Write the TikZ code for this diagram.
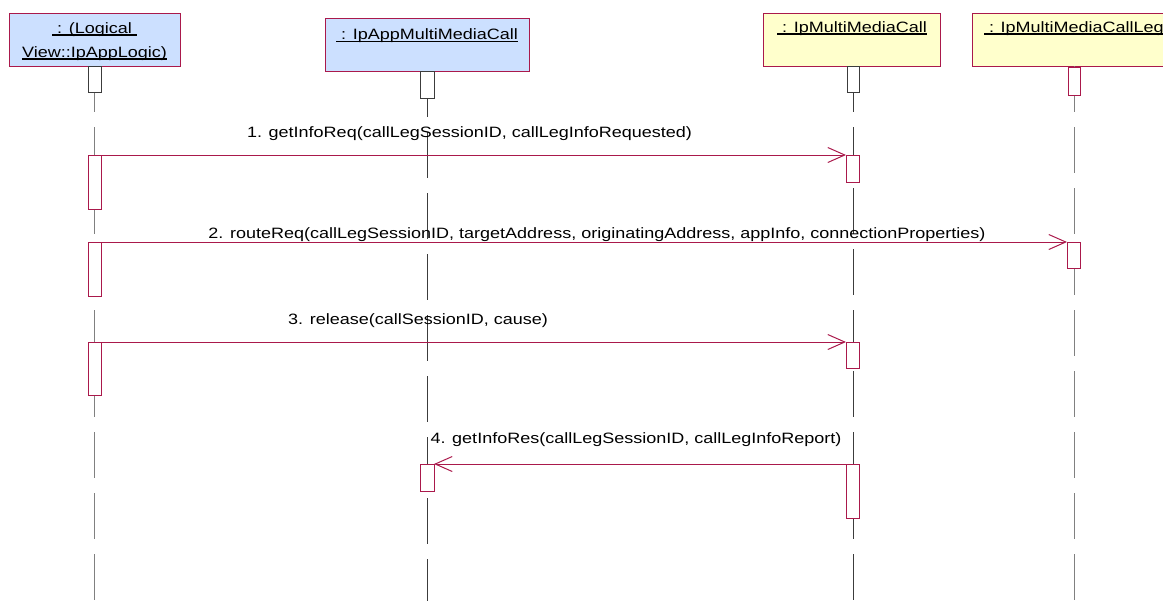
\documentclass[tikz,border=0pt]{standalone}
\usepackage{fontspec}
\newfontfamily\umlfont[FakeStretch=1.2]{Liberation Sans}
\usetikzlibrary{arrows.meta}
\newdimen\px \px=0.75pt
\newcommand\ulx[1]{\setbox0=\hbox{#1}\dimen0=\wd0\relax\rlap{\copy0}\rule[-1.9pt]{\dimen0}{0.85pt}}
\definecolor{umlred}{RGB}{170,25,75}
\definecolor{umlblue}{RGB}{204,224,255}
\definecolor{umlyellow}{RGB}{255,255,204}
\definecolor{lifegray}{RGB}{128,128,128}
\definecolor{lifedark}{RGB}{60,60,60}
\begin{document}
\begin{tikzpicture}[x=0.75pt,y=-0.75pt,
  every node/.style={font=\umlfont\fontsize{11.25}{13}\selectfont, inner sep=0pt, outer sep=0pt},
  objbox/.style={draw=umlred, line width=0.75pt, anchor=north west, minimum height=53\px},
  headbox/.style={draw=lifedark, fill=white, line width=0.75pt, anchor=north west},
  actbox/.style={draw=umlred, fill=white, line width=0.75pt, anchor=north west},
  lifeline/.style={line width=0.75pt, dash pattern=on 34.5pt off 11.25pt},
  msg/.style={draw=umlred, line width=0.75pt, -{Straight Barb[length=12.75pt,width=11.25pt]}},
  lbl/.style={anchor=base}
]
\useasboundingbox (0,0) rectangle (1163,601);
\clip (0,0) rectangle (1163,601);

% object boxes
\node[objbox, fill=umlblue, minimum width=171\px] (o1) at (9,13) {};
\node[objbox, fill=umlblue, minimum width=204\px] (o2) at (325,18) {};
\node[objbox, fill=umlyellow, minimum width=177\px] (o3) at (763,13) {};
\node[objbox, fill=umlyellow, minimum width=220\px] (o4) at (972,13) {};

% object names
\node[lbl] (t1a) at (94.5,33) {\ulx{\ : (Logical\ }};
\node[lbl] (t1b) at (94.5,57) {\ulx{View::IpAppLogic)}};
\node[lbl] (t2) at (427,39.5) {\ulx{\ : IpAppMultiMediaCall}};
\node[lbl] (t3) at (852,32) {\ulx{\ : IpMultiMediaCall}};
\node[anchor=base west] (t4) at (984,32) {\ulx{\ : IpMultiMediaCallLeg}};

% lifeline ends
\coordinate (e1) at (94.5,601);
\coordinate (e2) at (427,601);
\coordinate (e3) at (853,601);
\coordinate (e4) at (1074,601);

% lifelines
\draw[lifeline, lifegray] (o1.south -| e1) -- (e1);
\draw[lifeline, lifedark] (o2.south -| e2) -- (e2);
\draw[lifeline, lifedark] (o3.south -| e3) -- (e3);
\draw[lifeline, lifegray] (o4.south -| e4) -- (e4);

% head boxes
\node[headbox, minimum width=13\px, minimum height=26\px] (h1) at (88,66) {};
\node[headbox, minimum width=14\px, minimum height=27\px] (h2) at (420,71) {};
\node[headbox, minimum width=12\px, minimum height=26\px] (h3) at (847,66) {};
\node[headbox, draw=umlred, minimum width=12\px, minimum height=28\px] (h4) at (1068,67) {};

% activations
\node[actbox, minimum width=13\px, minimum height=54\px] (a1) at (88,155) {};
\node[actbox, minimum width=13\px, minimum height=54\px] (a2) at (88,242) {};
\node[actbox, minimum width=13\px, minimum height=53\px] (a3) at (88,342) {};
\node[actbox, minimum width=13\px, minimum height=27\px] (c1) at (846,155) {};
\node[actbox, minimum width=13\px, minimum height=26\px] (c2) at (846,342) {};
\node[actbox, minimum width=13\px, minimum height=54\px] (c3) at (846,464) {};
\node[actbox, minimum width=13\px, minimum height=26\px] (d1) at (1067,242) {};
\node[actbox, minimum width=14\px, minimum height=27\px] (b1) at (420,464) {};

% messages
\draw[msg] (a1.north east) -- (c1.north west);
\draw[msg] (a2.north east) -- (d1.north west);
\draw[msg] (a3.north east) -- (c2.north west);
\draw[msg] (c3.north west) -- (b1.north east);

% message labels
\node[lbl] (m1) at (469.5,137.5) {1. getInfoReq(callLegSessionID, callLegInfoRequested)};
\node[lbl] (m2) at (597,238) {2. routeReq(callLegSessionID, targetAddress, originatingAddress, appInfo, connectionProperties)};
\node[lbl] (m3) at (418,324) {3. release(callSessionID, cause)};
\node[lbl] (m4) at (636,443) {4. getInfoRes(callLegSessionID, callLegInfoReport)};
\end{tikzpicture}
\end{document}
